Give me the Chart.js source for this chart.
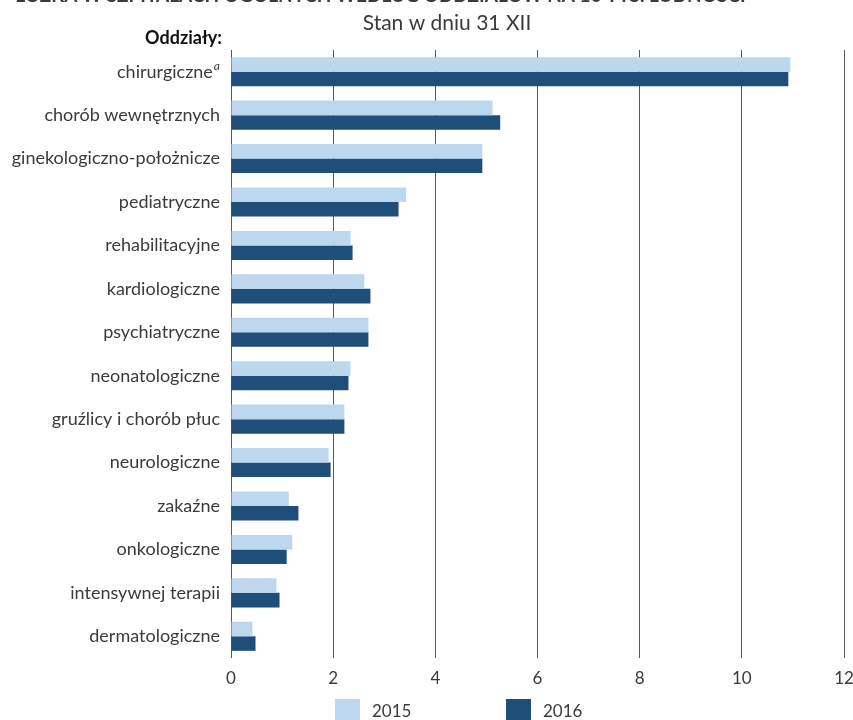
<!DOCTYPE html>
<html>
<head>
<meta charset="utf-8">
<script src="https://cdn.jsdelivr.net/npm/chart.js@4/dist/chart.umd.min.js"></script>
<style>
  html, body { margin: 0; padding: 0; background: #fff; }
  #wrap { width: 853px; height: 720px; position: relative; }
</style>
</head>
<body>
<div id="wrap"><canvas id="c" width="853" height="720"></canvas></div>
<script>
// Hospital wards (beds per 10 thousand population), state as of 31 XII
const categories = [
  'chirurgiczne',
  'chorób wewnętrznych',
  'ginekologiczno-położnicze',
  'pediatryczne',
  'rehabilitacyjne',
  'kardiologiczne',
  'psychiatryczne',
  'neonatologiczne',
  'gruźlicy i chorób płuc',
  'neurologiczne',
  'zakaźne',
  'onkologiczne',
  'intensywnej terapii',
  'dermatologiczne'
];
// footnote marker shown after the first category
const footnotes = ['a', '', '', '', '', '', '', '', '', '', '', '', '', ''];
const values2015 = [10.95, 5.12, 4.92, 3.43, 2.34, 2.61, 2.69, 2.34, 2.22, 1.91, 1.13, 1.20, 0.89, 0.42];
const values2016 = [10.91, 5.27, 4.92, 3.28, 2.38, 2.73, 2.69, 2.30, 2.22, 1.95, 1.32, 1.09, 0.95, 0.48];
const seriesLabels = ['2015', '2016'];
const xTicks = [0, 2, 4, 6, 8, 10, 12];

const FONT = 'Lato, "Open Sans", sans-serif';
const TEXT = '#3b3b3b';
const COLORS = ['#BDD7EE', '#1F4E79'];
const LABEL_SIZE = 18;

const headerPlugin = {
  id: 'header',
  afterDraw(chart) {
    const ctx = chart.ctx;
    ctx.save();
    ctx.fillStyle = '#3b3b3b';
    ctx.textBaseline = 'alphabetic';
    ctx.textAlign = 'left';
    ctx.font = 'bold 19px ' + FONT;
    ctx.fillText('ŁÓŻKA W SZPITALACH OGÓLNYCH WEDŁUG ODDZIAŁÓW NA 10 TYS. LUDNOŚCI', 15, 2);
    ctx.textAlign = 'center';
    ctx.font = '21px ' + FONT;
    ctx.fillText('Stan w dniu 31 XII', 447, 30);
    ctx.textAlign = 'right';
    ctx.font = 'bold 18px ' + FONT;
    ctx.fillStyle = '#111';
    ctx.fillText('Oddziały:', 222, 44);

    // category labels with optional superscript footnote marks
    const y = chart.scales.y;
    ctx.textBaseline = 'middle';
    categories.forEach((name, i) => {
      const cy = y.getPixelForValue(i);
      let right = y.right - 11;
      if (footnotes[i]) {
        ctx.font = 'italic 12px ' + FONT;
        ctx.fillStyle = TEXT;
        ctx.textAlign = 'right';
        ctx.fillText(footnotes[i], right, cy - 6);
        right -= ctx.measureText(footnotes[i]).width + 1;
      }
      ctx.font = LABEL_SIZE + 'px ' + FONT;
      ctx.fillStyle = TEXT;
      ctx.textAlign = 'right';
      ctx.fillText(name, right, cy);
    });

    // legend
    ctx.textAlign = 'left';
    ctx.textBaseline = 'middle';
    ctx.font = '17px ' + FONT;
    const starts = [335, 506];
    chart.data.datasets.forEach((ds, i) => {
      ctx.fillStyle = ds.backgroundColor;
      ctx.fillRect(starts[i], 699, 25, 22);
      ctx.fillStyle = TEXT;
      ctx.fillText(ds.label, starts[i] + 37, 712);
    });
    ctx.restore();
  }
};

new Chart(document.getElementById('c'), {
  type: 'bar',
  data: {
    labels: categories,
    datasets: [
      { label: seriesLabels[0], data: values2015, backgroundColor: COLORS[0] },
      { label: seriesLabels[1], data: values2016, backgroundColor: COLORS[1] }
    ]
  },
  options: {
    indexAxis: 'y',
    responsive: false,
    animation: false,
    layout: { padding: { top: 50, right: 9, bottom: 26, left: 0 } },
    datasets: { bar: { categoryPercentage: 0.67, barPercentage: 1.0 } },
    plugins: {
      legend: { display: false },
      title: { display: false },
      tooltip: { enabled: false }
    },
    scales: {
      x: {
        min: 0, max: 12,
        afterBuildTicks(scale) { scale.ticks = xTicks.map(v => ({ value: v })); },
        afterFit(scale) { scale.height = 36; scale.paddingRight = 0; scale.paddingLeft = 0; },
        border: { display: false },
        grid: { color: '#595959', lineWidth: 1, drawTicks: false },
        ticks: { color: TEXT, font: { family: FONT, size: 17 }, padding: 10 }
      },
      y: {
        afterFit(scale) { scale.width = 231; },
        border: { display: false },
        grid: { display: false, drawTicks: false },
        ticks: { display: false }
      }
    }
  },
  plugins: [headerPlugin]
});
</script>
</body>
</html>
